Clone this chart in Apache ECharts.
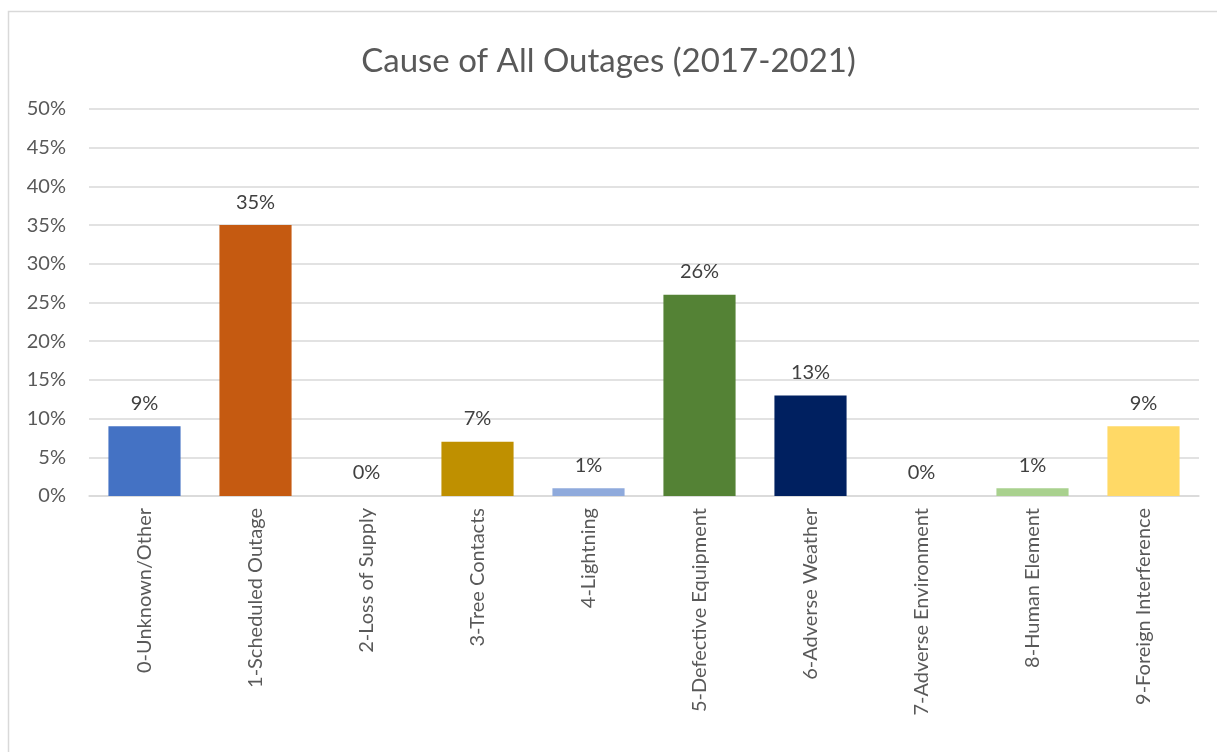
<!DOCTYPE html>
<html>
<head>
<meta charset="utf-8">
<script src="https://cdn.jsdelivr.net/npm/echarts@6/dist/echarts.min.js"></script>
<style>html,body{margin:0;padding:0;background:#fff;}#c{width:1217px;height:752px;}</style>
</head>
<body>
<div id="c"></div>
<script>
const categories = ["0-Unknown/Other","1-Scheduled Outage","2-Loss of Supply","3-Tree Contacts","4-Lightning","5-Defective Equipment","6-Adverse Weather","7-Adverse Environment","8-Human Element","9-Foreign Interference"];
const values = [9, 35, 0, 7, 1, 26, 13, 0, 1, 9];
const colors = ["#4472C4","#C55A11","#A5A5A5","#BF9000","#8FAADC","#548235","#002060","#7F7F7F","#A9D18E","#FFD966"];
const yTicks = [0,5,10,15,20,25,30,35,40,45,50];

const chart = echarts.init(document.getElementById('c'));
const font = 'Lato, "Open Sans", sans-serif';
chart.setOption({
  animation: false,
  textStyle: { fontFamily: font },
  title: { text: 'Cause of All Outages (2017-2021)', left: 'center', top: 40,
    textStyle: { fontFamily: font, fontSize: 33, fontWeight: 'normal', color: '#595959' } },
  graphic: [{ type: 'rect', shape: { x: 8.5, y: 11.5, width: 1220, height: 760 },
    style: { fill: 'none', stroke: '#d9d9d9', lineWidth: 1.5 }, silent: true }],
  grid: { left: 89, right: 18, top: 109, bottom: 256, containLabel: false },
  xAxis: { type: 'category', data: categories,
    axisLine: { lineStyle: { color: '#d9d9d9', width: 1.5 } }, axisTick: { show: false },
    axisLabel: { rotate: 90, interval: 0, margin: 12, fontSize: 20, color: '#595959', fontFamily: font } },
  yAxis: { type: 'value', min: 0, max: 50, interval: 5,
    axisLine: { show: false }, axisTick: { show: false },
    splitLine: { lineStyle: { color: '#d9d9d9', width: 1.5 } },
    axisLabel: { formatter: v => yTicks.includes(v) ? v + '%' : '', fontSize: 20, color: '#595959', margin: 23, fontFamily: font } },
  series: [{ type: 'bar', barCategoryGap: '35%',
    data: values.map((v, i) => ({ value: v, itemStyle: { color: colors[i] } })),
    label: { show: true, position: 'top', distance: 13, formatter: p => p.value + '%', fontSize: 20, color: '#404040', fontFamily: font } }]
});
</script>
</body>
</html>
